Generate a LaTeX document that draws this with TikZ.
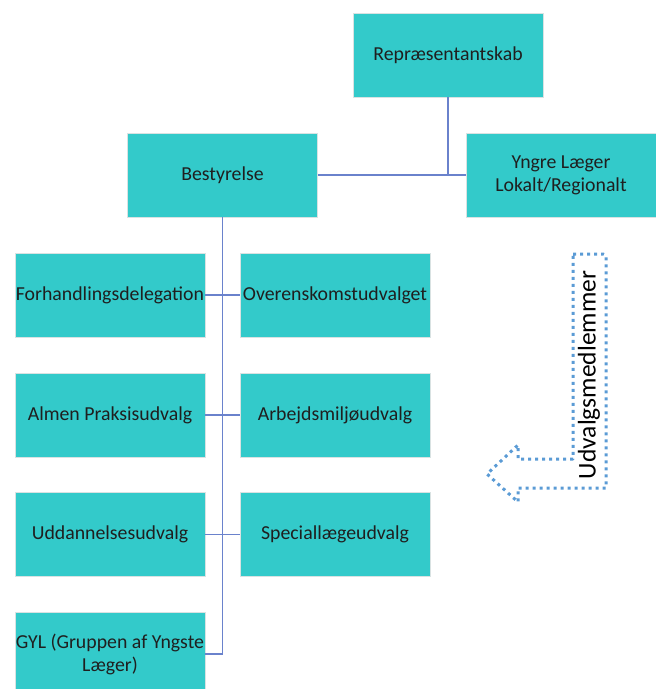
\documentclass[tikz,border=0pt]{standalone}
\usepackage{fontspec}
\setmainfont{Carlito}
\definecolor{boxfill}{HTML}{33CACA}
\definecolor{boxedge}{HTML}{D9E2E2}
\definecolor{linkc}{HTML}{6A82CC}
\definecolor{arrowc}{HTML}{5B9BD5}
\tikzset{
  orgbox/.style={draw=boxedge, line width=0.8pt, fill=boxfill, minimum width=190pt, minimum height=84pt,
    inner sep=0.5pt, align=center, font=\fontsize{19.8}{23}\selectfont, text=black!88},
  link/.style={draw=linkc, line width=1.4pt},
  dotarrow/.style={draw=arrowc, line width=3pt, dash pattern=on 3pt off 4pt, line join=round}
}
\begin{document}
\begin{tikzpicture}[x=1pt,y=-1pt]
\useasboundingbox (0,0) rectangle (656,689);
\clip (0,0) rectangle (656,689);
% boxes
\node[orgbox] (rep) at (448,55) {Repræsentantskab};
\node[orgbox] (best) at (222.5,175) {Bestyrelse};
\node[orgbox] (yngre) at (561,175) {Yngre Læger\\Lokalt/Regionalt};
\node[orgbox] (forh) at (110,295) {Forhandlingsdelegation};
\node[orgbox] (over) at (335,295) {Overenskomstudvalget};
\node[orgbox] (almen) at (110,415) {Almen Praksisudvalg};
\node[orgbox] (arb) at (335,415) {Arbejdsmiljøudvalg};
\node[orgbox] (udd) at (110,534.5) {Uddannelsesudvalg};
\node[orgbox] (spec) at (335,534.5) {Speciallægeudvalg};
\node[orgbox] (gyl) at (110,654) {GYL (Gruppen af Yngste\\Læger)};
% connectors
\draw[link] (best.east) -- (yngre.west);
\draw[link] (rep.south) -- (rep.south |- best.east);
\draw[link] (best.south) |- (gyl.east);
\draw[link] (forh.east) -- (over.west);
\draw[link] (almen.east) -- (arb.west);
\draw[link] (udd.east) -- (spec.west);
% dotted bent arrow
\draw[dotarrow] (573,254) -- (603,254) to[out=0,in=90] (606,257) -- (606,488) -- (518,488) -- (518,502)
  -- (487,474) -- (518,445) -- (518,459) -- (573,459) -- cycle;
\node[rotate=90, font=\fontsize{25.5}{30}\selectfont, text=black, inner sep=0pt] (udv) at (589,375) {Udvalgsmedlemmer};
\end{tikzpicture}
\end{document}
